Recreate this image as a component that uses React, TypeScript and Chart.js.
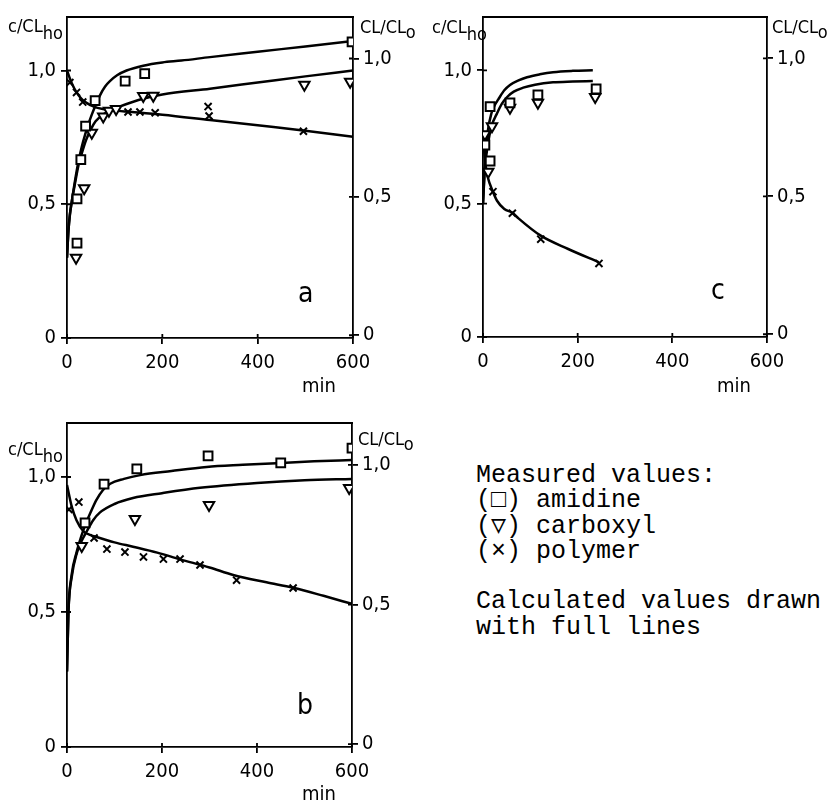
import React, { useEffect, useRef } from "react";
import { Chart, registerables } from "chart.js";
Chart.register(...registerables);

type P = [number, number];

// ---------- shared ticks ----------
const X_TICKS = [0, 200, 400, 600];
const Y_TICKS = [0, 0.5, 1.0];
const Y2_TICKS = [0, 0.5, 1.0];

// ---------- panel a ----------
const A_AMIDINE_MEASURED: P[] = [[21, 0.355], [21, 0.52], [29, 0.667], [39, 0.792], [59, 0.887], [122, 0.96], [163, 0.988], [598, 1.107]];
const A_CARBOXYL_MEASURED: P[] = [[19, 0.3], [36, 0.56], [52, 0.767], [76, 0.828], [88, 0.85], [103, 0.856], [160, 0.905], [181, 0.906], [498, 0.947], [594, 0.958]];
const A_POLYMER_MEASURED: P[] = [[6, 0.955], [20, 0.918], [33, 0.882], [128, 0.845], [153, 0.845], [185, 0.842], [296, 0.865], [298, 0.83], [496, 0.773]];
const A_AMIDINE_CALC: P[] = [[0, 0.3], [3, 0.4], [6, 0.46], [10, 0.51], [17, 0.59], [24, 0.66], [31, 0.715], [38, 0.76], [45, 0.8], [52, 0.835], [60, 0.87], [70, 0.91], [80, 0.94], [90, 0.96], [105, 0.982], [125, 1.0], [160, 1.018], [200, 1.03], [240, 1.037], [300, 1.05], [400, 1.07], [500, 1.09], [600, 1.11]];
const A_CARBOXYL_CALC: P[] = [[0, 0.3], [3, 0.4], [6, 0.46], [10, 0.51], [17, 0.58], [24, 0.645], [31, 0.69], [40, 0.74], [50, 0.78], [60, 0.81], [75, 0.835], [90, 0.85], [110, 0.865], [150, 0.89], [200, 0.91], [300, 0.932], [400, 0.955], [500, 0.978], [600, 1.0]];
const A_POLYMER_CALC: P[] = [[0, 1.0], [5, 0.975], [10, 0.952], [20, 0.918], [30, 0.895], [40, 0.88], [50, 0.87], [60, 0.862], [80, 0.855], [100, 0.85], [150, 0.843], [200, 0.835], [300, 0.815], [400, 0.795], [500, 0.775], [600, 0.752]];

// ---------- panel b ----------
const B_AMIDINE_MEASURED: P[] = [[38, 0.83], [78, 0.974], [147, 1.03], [297, 1.078], [450, 1.052], [600, 1.107]];
const B_CARBOXYL_MEASURED: P[] = [[31, 0.744], [143, 0.844], [299, 0.896], [594, 0.959]];
const B_POLYMER_MEASURED: P[] = [[4, 0.88], [25, 0.907], [57, 0.774], [84, 0.733], [122, 0.722], [161, 0.704], [203, 0.696], [238, 0.696], [280, 0.674], [357, 0.618], [476, 0.589]];
const B_AMIDINE_CALC: P[] = [[0, 0.28], [3, 0.5], [10, 0.64], [20, 0.72], [30, 0.78], [38, 0.82], [50, 0.87], [62, 0.915], [75, 0.95], [91, 0.975], [120, 0.993], [154, 1.007], [220, 1.022], [294, 1.037], [370, 1.045], [448, 1.052], [520, 1.058], [600, 1.063]];
const B_CARBOXYL_CALC: P[] = [[0, 0.28], [3, 0.5], [10, 0.63], [21, 0.72], [30, 0.76], [42, 0.8], [55, 0.84], [69, 0.868], [100, 0.9], [139, 0.922], [200, 0.94], [280, 0.96], [400, 0.978], [500, 0.988], [600, 0.993]];
const B_POLYMER_CALC: P[] = [[0, 0.97], [10, 0.89], [20, 0.84], [34, 0.8], [50, 0.785], [62, 0.778], [100, 0.758], [139, 0.742], [190, 0.72], [238, 0.695], [300, 0.665], [350, 0.637], [420, 0.61], [476, 0.59], [540, 0.56], [600, 0.53]];

// ---------- panel c ----------
const C_AMIDINE_MEASURED: P[] = [[4, 0.72], [15, 0.864], [15, 0.66], [57, 0.878], [116, 0.908], [239, 0.93]];
const C_CARBOXYL_MEASURED: P[] = [[4, 0.76], [19, 0.79], [11, 0.62], [57, 0.86], [116, 0.878], [237, 0.9]];
const C_POLYMER_MEASURED: P[] = [[21, 0.545], [62, 0.464], [122, 0.367], [245, 0.276]];
const C_AMIDINE_CALC: P[] = [[0, 0.5], [4, 0.65], [10, 0.77], [18, 0.84], [25, 0.87], [32, 0.89], [45, 0.925], [57, 0.945], [75, 0.962], [93, 0.974], [120, 0.985], [148, 0.993], [190, 0.998], [232, 1.0]];
const C_CARBOXYL_CALC: P[] = [[0, 0.5], [4, 0.63], [10, 0.72], [18, 0.79], [30, 0.84], [40, 0.875], [51, 0.9], [65, 0.92], [85, 0.935], [110, 0.946], [148, 0.955], [190, 0.958], [232, 0.96]];
const C_POLYMER_CALC: P[] = [[0, 0.75], [5, 0.65], [10, 0.6], [21, 0.545], [30, 0.51], [45, 0.48], [63, 0.465], [75, 0.445], [122, 0.38], [180, 0.33], [245, 0.28]];

const NARROW = "'Liberation Sans Narrow', 'DejaVu Sans Condensed', 'Arial Narrow', 'DejaVu Sans', sans-serif";
const MONO = "'Courier New', 'Liberation Mono', 'DejaVu Sans Mono', monospace";

const fmtY = (v: number) => (v === 0 ? "0" : v.toFixed(1).replace(".", ","));

const framePlugin = {
  id: "frame",
  afterDraw(chart: any) {
    const { ctx, chartArea } = chart;
    const { left, right, top, bottom } = chartArea;
    ctx.save();
    ctx.strokeStyle = "#000";
    ctx.lineWidth = 1.8;
    ctx.beginPath();
    ctx.moveTo(left - 1, top);
    ctx.lineTo(right + 1, top);
    const inner = 4;
    const xs = chart.scales.x, ys = chart.scales.y, y2 = chart.scales.y2;
    xs.ticks.forEach((t: any) => {
      const p = xs.getPixelForValue(t.value);
      ctx.moveTo(p, bottom);
      ctx.lineTo(p, bottom - inner);
    });
    ys.ticks.forEach((t: any) => {
      const p = ys.getPixelForValue(t.value);
      ctx.moveTo(left, p);
      ctx.lineTo(left + inner, p);
    });
    y2.ticks.forEach((t: any) => {
      const p = y2.getPixelForValue(t.value);
      ctx.moveTo(right, p);
      ctx.lineTo(right - inner, p);
    });
    ctx.stroke();
    ctx.restore();
  },
};

type PanelProps = {
  left: number; top: number; width: number; height: number;
  padTop: number; leftW: number; rightW: number; xH: number;
  amidineM: P[]; carboxylM: P[]; polymerM: P[];
  amidineC: P[]; carboxylC: P[]; polymerC: P[];
};

function Panel(p: PanelProps) {
  const ref = useRef<HTMLCanvasElement | null>(null);
  useEffect(() => {
    if (!ref.current) return;
    const pts = (a: P[]) => a.map(([x, y]) => ({ x, y }));
    const line = (a: P[]) => ({
      data: pts(a), showLine: true, pointRadius: 0, borderColor: "#000", borderWidth: 2.5,
      cubicInterpolationMode: "monotone" as const, order: 2, yAxisID: "y",
    });
    const marks = (a: P[], style: string, radius: number, rotation = 0) => ({
      data: pts(a), showLine: false, pointStyle: style, pointRadius: radius, pointRotation: rotation,
      pointBorderColor: "#000", pointBackgroundColor: "#fff", pointBorderWidth: 2, order: 0, yAxisID: "y",
    });
    const font = { family: NARROW, size: 20 };
    const common = (w: number | null, h: number | null) => ({
      border: { color: "#000", width: 1.8 },
      grid: { drawOnChartArea: false, color: "#000", tickLength: 6, lineWidth: 1.8 },
      afterFit: (s: any) => { if (w !== null) s.width = w; if (h !== null) s.height = h; },
    });
    const chart = new Chart(ref.current, {
      type: "scatter",
      data: {
        datasets: [
          line(p.amidineC), line(p.carboxylC), line(p.polymerC),
          marks(p.amidineM, "rect", 6.2), marks(p.carboxylM, "triangle", 6, 180), marks(p.polymerM, "crossRot", 5),
        ] as any,
      },
      plugins: [framePlugin],
      options: {
        responsive: false, animation: false, events: [],
        layout: { padding: { top: p.padTop, left: 0, right: 0, bottom: 0 } },
        plugins: { legend: { display: false }, tooltip: { enabled: false } },
        scales: {
          x: {
            type: "linear", min: 0, max: 600, ...common(null, p.xH),
            afterBuildTicks: (s: any) => { s.ticks = X_TICKS.map((v) => ({ value: v })); },
            ticks: { color: "#000", font, padding: 7, maxRotation: 0, autoSkip: false, callback: (v: any) => String(v) },
          },
          y: {
            type: "linear", position: "left", min: 0, max: 1.2, ...common(p.leftW, null),
            afterBuildTicks: (s: any) => { s.ticks = Y_TICKS.map((v) => ({ value: v })); },
            ticks: { color: "#000", font, padding: 5, autoSkip: false, callback: (v: any) => fmtY(Number(v)) },
          },
          y2: {
            type: "linear", position: "right", min: -0.01, max: 1.15, ...common(p.rightW, null),
            afterBuildTicks: (s: any) => { s.ticks = Y2_TICKS.map((v) => ({ value: v })); },
            ticks: { color: "#000", font, padding: 4, autoSkip: false, callback: (v: any) => fmtY(Number(v)) },
          },
        },
      } as any,
    });
    return () => chart.destroy();
  }, []);
  return (
    <div style={{ position: "absolute", left: p.left, top: p.top, width: p.width, height: p.height }}>
      <canvas ref={ref} width={p.width} height={p.height} />
    </div>
  );
}

function Txt(props: { x: number; base: number; size: number; family?: string; children: React.ReactNode }) {
  return (
    <div style={{
      position: "absolute", left: props.x, top: props.base - props.size * 0.85, fontSize: props.size,
      lineHeight: 1, fontFamily: props.family || NARROW, whiteSpace: "nowrap", color: "#000",
    }}>{props.children}</div>
  );
}

function AxisLabels(props: { lx: number; lbase: number; rx: number; rbase: number; mx: number; mbase: number; letter: string; ax: number; abase: number }) {
  return (
    <>
      <Txt x={props.lx} base={props.lbase} size={18}>c/CL<span style={{ position: "relative", top: 7 }}>ho</span></Txt>
      <Txt x={props.rx} base={props.rbase} size={18}>CL/CL<span style={{ position: "relative", top: 5 }}>o</span></Txt>
      <Txt x={props.mx} base={props.mbase} size={20}>min</Txt>
      <Txt x={props.ax} base={props.abase} size={28}>{props.letter}</Txt>
    </>
  );
}

const sym = (s: string) => <span style={{ display: "inline-block", width: 15, textAlign: "center" }}>{s}</span>;

export default function App() {
  return (
    <div style={{ position: "absolute", left: 0, top: 0, width: 836, height: 801, background: "#fff", overflow: "hidden" }}>
      <Panel left={0} top={0} width={420} height={400} padTop={15} leftW={67} rightW={67} xH={62}
        amidineM={A_AMIDINE_MEASURED} carboxylM={A_CARBOXYL_MEASURED} polymerM={A_POLYMER_MEASURED}
        amidineC={A_AMIDINE_CALC} carboxylC={A_CARBOXYL_CALC} polymerC={A_POLYMER_CALC} />
      <Panel left={416} top={0} width={420} height={400} padTop={13} leftW={67} rightW={69} xH={63}
        amidineM={C_AMIDINE_MEASURED} carboxylM={C_CARBOXYL_MEASURED} polymerM={C_POLYMER_MEASURED}
        amidineC={C_AMIDINE_CALC} carboxylC={C_CARBOXYL_CALC} polymerC={C_POLYMER_CALC} />
      <Panel left={0} top={400} width={420} height={401} padTop={23} leftW={67} rightW={68} xH={54}
        amidineM={B_AMIDINE_MEASURED} carboxylM={B_CARBOXYL_MEASURED} polymerM={B_POLYMER_MEASURED}
        amidineC={B_AMIDINE_CALC} carboxylC={B_CARBOXYL_CALC} polymerC={B_POLYMER_CALC} />

      <AxisLabels lx={8} lbase={32} rx={360} rbase={33} mx={302} mbase={392} letter="a" ax={298} abase={303} />
      <AxisLabels lx={432} lbase={33} rx={772} rbase={33} mx={717} mbase={392} letter="c" ax={711} abase={300} />
      <AxisLabels lx={8} lbase={455} rx={358} rbase={445} mx={302} mbase={800} letter="b" ax={297} abase={715} />

      <div style={{ position: "absolute", left: 476, top: 463, fontFamily: MONO, fontSize: 25, lineHeight: "25.3px", whiteSpace: "pre", color: "#000" }}>
        <div>Measured values:</div>
        <div>({sym("\u25A1")}) amidine</div>
        <div>({sym("\u25BD")}) carboxyl</div>
        <div>({sym("\u00D7")}) polymer</div>
        <div>&nbsp;</div>
        <div>Calculated values drawn</div>
        <div>with full lines</div>
      </div>
    </div>
  );
}
